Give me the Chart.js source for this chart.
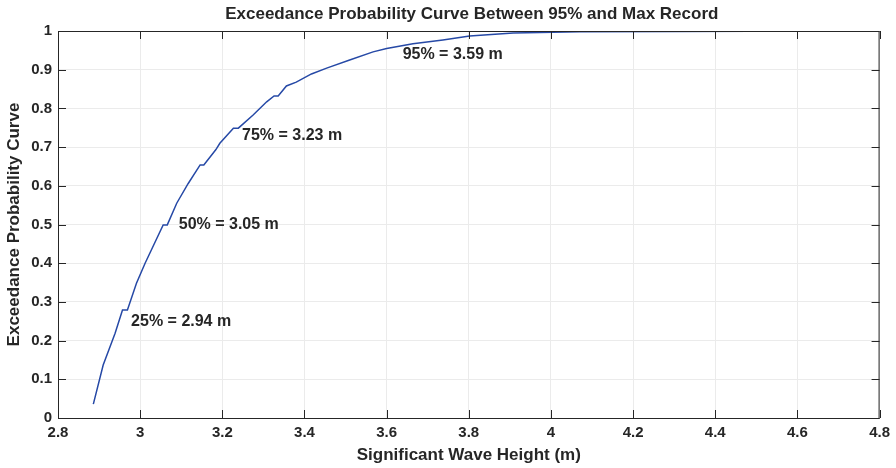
<!DOCTYPE html>
<html>
<head>
<meta charset="utf-8">
<script src="https://cdn.jsdelivr.net/npm/chart.js@4/dist/chart.umd.min.js"></script>
<style>
  html, body { margin: 0; padding: 0; background: #fff; }
  #wrap { width: 896px; height: 468px; }
</style>
</head>
<body>
<div id="wrap"><canvas id="curve"></canvas></div>
<script>
// Wave height (m) and exceedance probability
const waveHeight = [2.886, 2.910, 2.939, 2.957, 2.969, 2.991, 3.012, 3.056, 3.066, 3.089,
  3.117, 3.146, 3.155, 3.184, 3.194, 3.227, 3.239, 3.275, 3.308, 3.326, 3.336, 3.356,
  3.380, 3.417, 3.454, 3.510, 3.567, 3.600, 3.664, 3.737, 3.802, 3.908, 4.005, 4.070,
  4.300, 4.677];
const exceedance = [0.036, 0.137, 0.219, 0.279, 0.279, 0.348, 0.400, 0.499, 0.499, 0.555,
  0.606, 0.654, 0.654, 0.693, 0.710, 0.749, 0.749, 0.783, 0.817, 0.832, 0.832, 0.858,
  0.868, 0.889, 0.904, 0.925, 0.946, 0.955, 0.967, 0.977, 0.987, 0.995, 0.997, 0.998,
  0.999, 1.000];

// Percentile labels and where they sit (data coords of the text's left/middle)
const labelText = ['25% = 2.94 m', '50% = 3.05 m', '75% = 3.23 m', '95% = 3.59 m'];
const labelX = [2.978, 3.094, 3.248, 3.639];
const labelY = [0.248, 0.501, 0.729, 0.940];

const chartTitle = 'Exceedance Probability Curve Between 95% and Max Record';
const inkColor = '#262626';
const fontFamily = '"Liberation Sans", Arial, Helvetica, sans-serif';

// Title over the axes, box round the plot, inward ticks, percentile labels
const boxPlugin = {
  id: 'box',
  afterDraw(chart) {
    const { ctx, chartArea: a, scales } = chart;
    ctx.save();
    ctx.strokeStyle = inkColor;
    ctx.lineWidth = 1;
    ctx.strokeRect(a.left + 0.5, a.top + 0.5, a.right - a.left - 1, a.bottom - a.top);
    const len = 8;
    ctx.beginPath();
    scales.x.ticks.forEach(t => {
      const px = Math.round(scales.x.getPixelForValue(t.value)) + 0.5;
      ctx.moveTo(px, a.bottom); ctx.lineTo(px, a.bottom - len);
      ctx.moveTo(px, a.top); ctx.lineTo(px, a.top + len);
    });
    scales.y.ticks.forEach(t => {
      const py = Math.round(scales.y.getPixelForValue(t.value)) + 0.5;
      ctx.moveTo(a.left, py); ctx.lineTo(a.left + len, py);
      ctx.moveTo(a.right, py); ctx.lineTo(a.right - len, py);
    });
    ctx.stroke();

    ctx.fillStyle = inkColor;
    ctx.textBaseline = 'middle';
    ctx.font = 'bold 17px ' + fontFamily;
    ctx.textAlign = 'center';
    ctx.fillText(chartTitle, (a.left + a.right) / 2 + 3, 14);

    ctx.font = 'bold 16px ' + fontFamily;
    ctx.textAlign = 'left';
    labelText.forEach((txt, i) => {
      ctx.fillText(txt, scales.x.getPixelForValue(labelX[i]), scales.y.getPixelForValue(labelY[i]));
    });
    ctx.restore();
  }
};

new Chart(document.getElementById('curve').getContext('2d'), {
  type: 'line',
  data: {
    datasets: [{
      data: waveHeight.map((x, i) => ({ x: x, y: exceedance[i] })),
      borderColor: '#2649a6',
      borderWidth: 1.5,
      pointRadius: 0,
      tension: 0,
      fill: false
    }]
  },
  options: {
    responsive: true,
    maintainAspectRatio: false,
    animation: false,
    layout: { padding: { left: 0, right: 16, top: 31, bottom: 0 } },
    plugins: {
      legend: { display: false },
      tooltip: { enabled: false },
      title: { display: false }
    },
    scales: {
      x: {
        type: 'linear',
        min: 2.8,
        max: 4.8,
        afterFit(s) { s.height = 50; },
        ticks: {
          stepSize: 0.2,
          color: inkColor,
          padding: 6,
          font: { family: fontFamily, size: 15, weight: 'bold' },
          callback: v => Math.round(v * 10) / 10
        },
        grid: { color: '#ebebeb', drawTicks: false },
        border: { display: false },
        title: {
          display: true,
          text: 'Significant Wave Height (m)',
          color: inkColor,
          font: { family: fontFamily, size: 17, weight: 'bold' },
          padding: { top: 0, bottom: 2 }
        }
      },
      y: {
        min: 0,
        max: 1,
        afterFit(s) { s.width = 58; },
        ticks: {
          stepSize: 0.1,
          color: inkColor,
          padding: 6,
          font: { family: fontFamily, size: 15, weight: 'bold' },
          callback: v => Math.round(v * 10) / 10
        },
        grid: { color: '#ebebeb', drawTicks: false },
        border: { display: false },
        title: {
          display: true,
          text: 'Exceedance Probability Curve',
          color: inkColor,
          font: { family: fontFamily, size: 17, weight: 'bold' },
          padding: { top: 4, bottom: 0 }
        }
      }
    }
  },
  plugins: [boxPlugin]
});
</script>
</body>
</html>
